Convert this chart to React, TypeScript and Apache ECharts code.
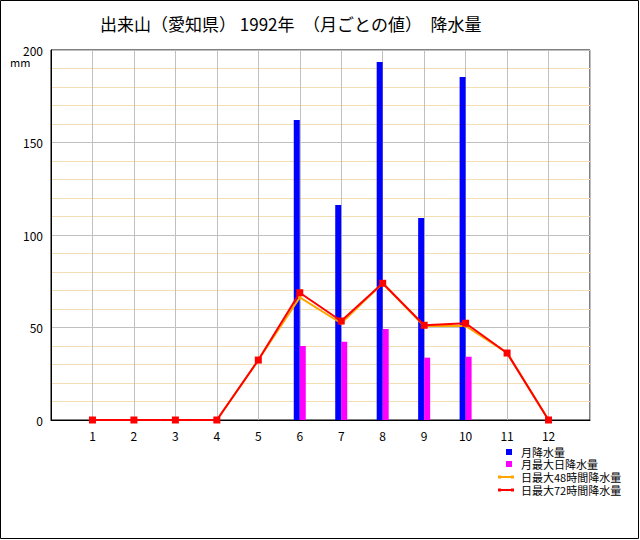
import React, { useEffect, useRef } from "react";
import * as echarts from "echarts";

const months = [1, 2, 3, 4, 5, 6, 7, 8, 9, 10, 11, 12];
const monthlyPrecip = [0, 0, 0, 0, null, 162.2, 116.2, 193.5, 109.2, 185.4, null, 0];
const maxDailyPrecip = [0, 0, 0, 0, null, 40.0, 42.3, 49.2, 33.7, 34.2, null, 0];
const max48hPrecip = [0, 0, 0, 0, 32.4, 66.3, 52.3, 73.9, 50.8, 50.8, 36.2, 0];
const max72hPrecip = [0, 0, 0, 0, 32.4, 68.8, 53.5, 73.9, 51.2, 52.3, 36.2, 0];

const seriesNames = ["月降水量", "月最大日降水量", "日最大48時間降水量", "日最大72時間降水量"];
const colors = ["#0000ff", "#ff00ff", "#ffa500", "#ff0000"];
const titleText = "出来山（愛知県） 1992年　（月ごとの値）　降水量";
const yUnit = "mm";

const FONT = "'Noto Sans CJK JP', 'DejaVu Sans', sans-serif";

function pairs(vals: (number | null)[]) {
  return months.map((m, i) => [m, vals[i]]);
}

export default function App() {
  const ref = useRef<HTMLDivElement>(null);
  useEffect(() => {
    if (!ref.current) return;
    const chart = echarts.init(ref.current, undefined, { renderer: "svg" });
    const legendY = [452, 464, 477, 490];
    const legendGraphics: any[] = [];
    legendY.forEach((y, i) => {
      if (i < 2) {
        legendGraphics.push({
          type: "rect",
          shape: { x: 506, y: y - 3, width: 6, height: 6 },
          style: { fill: colors[i] },
        });
      } else {
        legendGraphics.push({
          type: "line",
          shape: { x1: 499, y1: y, x2: 513, y2: y },
          style: { stroke: colors[i], lineWidth: 2 },
        });
        legendGraphics.push({
          type: "rect",
          shape: { x: 498, y: y - 1.5, width: 3, height: 3 },
          style: { fill: colors[i] },
        });
        legendGraphics.push({
          type: "rect",
          shape: { x: 511, y: y - 1.5, width: 3, height: 3 },
          style: { fill: colors[i] },
        });
      }
      legendGraphics.push({
        type: "text",
        x: 521,
        y: y,
        style: {
          text: seriesNames[i],
          fill: "#000",
          font: `11px ${FONT}`,
          lineHeight: 11,
          verticalAlign: "middle",
        },
      });
    });

    chart.setOption({
      animation: false,
      backgroundColor: "#fff",
      title: {
        text: titleText,
        left: 95,
        top: 10,
        textStyle: { fontSize: 17, fontWeight: "normal", color: "#000", fontFamily: FONT },
      },
      grid: { left: 51, top: 50, right: 50, bottom: 120, show: true, borderColor: "#000", borderWidth: 1 },
      xAxis: {
        type: "value",
        min: 0,
        max: 13,
        interval: 1,
        axisLine: { show: true, lineStyle: { color: "#000" } },
        axisTick: { show: false },
        axisLabel: {
          color: "#000",
          fontSize: 12,
          fontFamily: FONT,
          margin: 9,
          formatter: (v: number) => (months.indexOf(v) >= 0 ? String(v) : ""),
        },
        splitLine: { show: true, lineStyle: { color: "#c0c0c0", width: 1 } },
      },
      yAxis: {
        type: "value",
        min: 0,
        max: 200,
        interval: 50,
        axisLine: { show: true, lineStyle: { color: "#000" } },
        axisTick: { show: false },
        axisLabel: { color: "#000", fontSize: 12, fontFamily: FONT, margin: 8 },
        splitLine: { show: true, lineStyle: { color: "#c0c0c0", width: 1 } },
        minorTick: { show: false, splitNumber: 5 },
        minorSplitLine: { show: true, lineStyle: { color: "#f5deb3", width: 1 } },
      },
      graphic: [
        {
          type: "rect",
          shape: { x: 0.5, y: 0.5, width: 638, height: 538 },
          style: { fill: "none", stroke: "#000", lineWidth: 1 },
          z: 100,
        },
        {
          type: "text",
          x: 10,
          y: 62,
          style: { text: yUnit, fill: "#000", font: `11px ${FONT}`, verticalAlign: "middle" },
        },
        ...legendGraphics,
      ],
      series: [
        {
          name: seriesNames[0],
          type: "bar",
          data: pairs(monthlyPrecip),
          barWidth: 6,
          barGap: "0%",
          itemStyle: { color: colors[0] },
        },
        {
          name: seriesNames[1],
          type: "bar",
          data: pairs(maxDailyPrecip),
          barWidth: 6,
          barGap: "0%",
          itemStyle: { color: colors[1] },
        },
        {
          name: seriesNames[2],
          type: "line",
          data: pairs(max48hPrecip),
          symbol: "rect",
          symbolSize: 3,
          lineStyle: { color: colors[2], width: 2 },
          itemStyle: { color: colors[2] },
        },
        {
          name: seriesNames[3],
          type: "line",
          data: pairs(max72hPrecip),
          symbol: "rect",
          symbolSize: 7,
          lineStyle: { color: colors[3], width: 2 },
          itemStyle: { color: colors[3] },
        },
      ],
    });
    return () => chart.dispose();
  }, []);
  return (
    <div
      ref={ref}
      style={{ position: "fixed", left: 0, top: 0, width: 640, height: 540 }}
    />
  );
}
